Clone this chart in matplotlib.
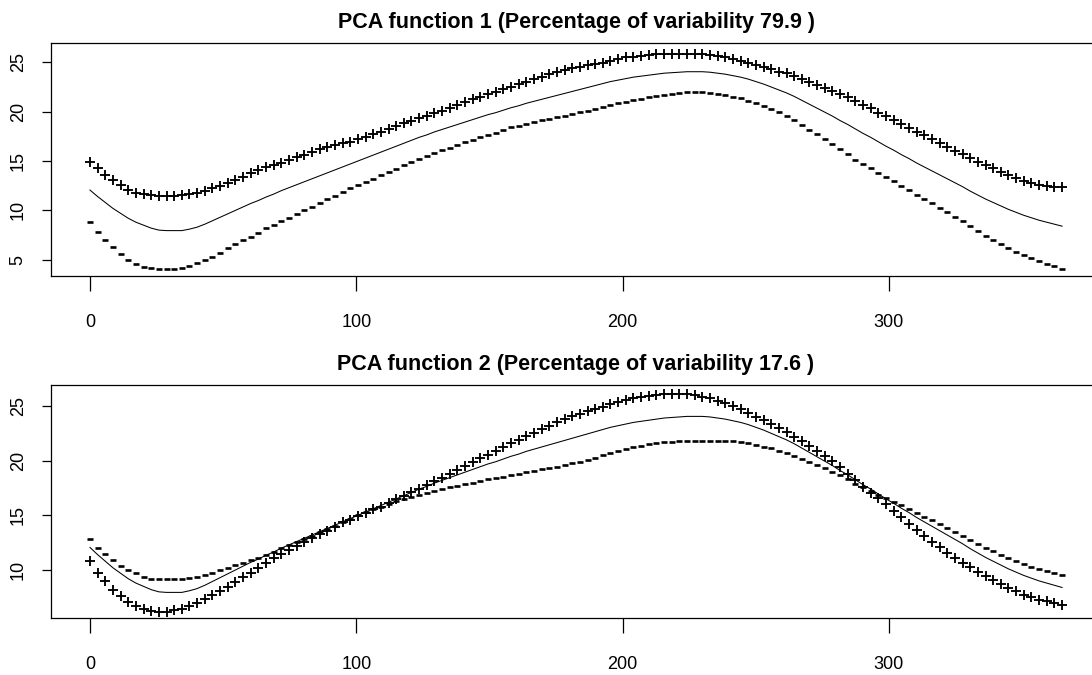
import numpy as np
import matplotlib
matplotlib.use('Agg')
import matplotlib.pyplot as plt

plt.rcParams['font.family'] = ['Liberation Sans', 'DejaVu Sans']

# day grid of the evaluated curves (128 points over the year)
days = np.linspace(0, 365, 128)

mean_curve = [
    12.06, 11.4, 10.8, 10.2, 9.7, 9.2, 8.8, 8.5, 8.2, 8.0,
    7.95, 7.95, 7.95, 8.1, 8.3, 8.6, 8.95, 9.3, 9.65, 10.0,
    10.35, 10.7, 11.0, 11.35, 11.65, 12.0, 12.3, 12.6, 12.9, 13.2,
    13.5, 13.8, 14.1, 14.4, 14.7, 15.0, 15.3, 15.6, 15.9, 16.2,
    16.5, 16.8, 17.1, 17.4, 17.65, 17.95, 18.2, 18.45, 18.7, 18.95,
    19.2, 19.45, 19.7, 19.9, 20.15, 20.4, 20.6, 20.85, 21.05, 21.25,
    21.45, 21.65, 21.85, 22.05, 22.25, 22.45, 22.65, 22.85, 23.05, 23.2,
    23.35, 23.5, 23.6, 23.7, 23.8, 23.9, 23.95, 24.0, 24.05, 24.05,
    24.05, 24.0, 23.9, 23.8, 23.65, 23.5, 23.3, 23.05, 22.8, 22.5,
    22.2, 21.9, 21.55, 21.15, 20.75, 20.35, 19.95, 19.55, 19.1, 18.7,
    18.25, 17.8, 17.4, 16.95, 16.5, 16.1, 15.65, 15.25, 14.8, 14.4,
    14.0, 13.6, 13.2, 12.8, 12.4, 11.95, 11.55, 11.15, 10.8, 10.45,
    10.1, 9.8, 9.5, 9.25, 9.0, 8.8, 8.6, 8.4,
]

pc1_plus = [
    14.93, 14.26, 13.58, 13.07, 12.57, 12.06, 11.79, 11.66, 11.55, 11.45,
    11.45, 11.45, 11.55, 11.66, 11.79, 11.99, 12.23, 12.5, 12.8, 13.07,
    13.41, 13.75, 14.08, 14.35, 14.59, 14.82, 15.09, 15.36, 15.6, 15.93,
    16.17, 16.44, 16.65, 16.79, 16.96, 17.2, 17.46, 17.74, 17.97, 18.21,
    18.55, 18.82, 19.09, 19.32, 19.56, 19.83, 20.1, 20.34, 20.67, 21.01,
    21.25, 21.52, 21.79, 22.02, 22.26, 22.53, 22.77, 23.04, 23.27, 23.54,
    23.81, 24.05, 24.22, 24.39, 24.56, 24.73, 24.83, 24.96, 25.17, 25.33,
    25.5, 25.57, 25.67, 25.74, 25.8, 25.84, 25.84, 25.84, 25.84, 25.84,
    25.8, 25.74, 25.64, 25.5, 25.33, 25.17, 24.96, 24.73, 24.49, 24.29,
    24.05, 23.88, 23.61, 23.31, 23.04, 22.7, 22.36, 22.13, 21.79, 21.45,
    21.1, 20.72, 20.34, 19.9, 19.56, 19.15, 18.75, 18.31, 17.97, 17.63,
    17.2, 16.79, 16.39, 16.05, 15.71, 15.27, 14.93, 14.59, 14.26, 13.92,
    13.58, 13.24, 13.01, 12.74, 12.57, 12.47, 12.4, 12.33,
]

pc1_minus = [
    8.85, 7.84, 7.0, 6.25, 5.58, 4.97, 4.56, 4.29, 4.13, 4.02,
    4.02, 4.05, 4.13, 4.36, 4.7, 4.97, 5.24, 5.71, 6.15, 6.59,
    7.0, 7.33, 7.74, 8.18, 8.52, 8.92, 9.26, 9.63, 10.04, 10.37,
    10.78, 11.12, 11.45, 11.89, 12.23, 12.57, 12.9, 13.23, 13.57, 13.9,
    14.23, 14.57, 14.9, 15.23, 15.52, 15.85, 16.1, 16.37, 16.63, 16.89,
    17.15, 17.41, 17.67, 17.88, 18.14, 18.4, 18.57, 18.78, 18.95, 19.11,
    19.27, 19.44, 19.6, 19.76, 19.93, 20.09, 20.25, 20.45, 20.67, 20.85,
    21.03, 21.2, 21.33, 21.46, 21.6, 21.73, 21.81, 21.9, 21.98, 21.99,
    21.99, 21.93, 21.81, 21.69, 21.52, 21.35, 21.13, 20.86, 20.59, 20.27,
    19.94, 19.6, 19.17, 18.68, 18.19, 17.7, 17.21, 16.72, 16.18, 15.69,
    15.15, 14.7, 14.28, 13.82, 13.35, 12.94, 12.48, 12.06, 11.6, 11.15,
    10.7, 10.25, 9.8, 9.34, 8.88, 8.37, 7.9, 7.4, 6.95, 6.55,
    6.15, 5.8, 5.45, 5.15, 4.85, 4.6, 4.35, 4.1,
]

pc2_plus = [
    10.85, 9.75, 8.99, 8.17, 7.62, 7.1, 6.7, 6.4, 6.27, 6.18,
    6.18, 6.3, 6.45, 6.7, 7.0, 7.35, 7.7, 8.1, 8.47, 8.93,
    9.32, 9.75, 10.21, 10.67, 11.06, 11.46, 11.83, 12.22, 12.59, 12.89,
    13.26, 13.59, 13.9, 14.35, 14.6, 14.94, 15.24, 15.55, 15.8, 16.1,
    16.45, 16.8, 17.15, 17.45, 17.75, 18.1, 18.45, 18.8, 19.15, 19.5,
    19.85, 20.2, 20.55, 20.9, 21.25, 21.6, 21.9, 22.25, 22.55, 22.9,
    23.2, 23.5, 23.8, 24.05, 24.3, 24.5, 24.7, 24.94, 25.18, 25.4,
    25.55, 25.7, 25.79, 25.91, 26.01, 26.07, 26.1, 26.1, 26.07, 26.01,
    25.85, 25.7, 25.49, 25.3, 25.03, 24.7, 24.39, 24.02, 23.72, 23.32,
    22.96, 22.59, 22.19, 21.83, 21.37, 20.91, 20.43, 20.0, 19.39, 18.75,
    18.2, 17.56, 17.07, 16.55, 16.03, 15.42, 14.81, 14.2, 13.66, 13.11,
    12.59, 12.07, 11.58, 11.12, 10.67, 10.24, 9.84, 9.45, 9.08, 8.71,
    8.38, 8.07, 7.71, 7.49, 7.28, 7.13, 6.95, 6.79,
]

pc2_minus = [
    12.8, 12.04, 11.43, 10.91, 10.39, 10.0, 9.69, 9.39, 9.17, 9.14,
    9.14, 9.14, 9.17, 9.29, 9.39, 9.54, 9.75, 10.0, 10.21, 10.45,
    10.67, 10.91, 11.12, 11.37, 11.67, 11.98, 12.28, 12.59, 12.83, 13.14,
    13.44, 13.75, 14.05, 14.4, 14.7, 15.0, 15.3, 15.55, 15.8, 16.05,
    16.3, 16.5, 16.7, 16.9, 17.05, 17.25, 17.4, 17.55, 17.7, 17.85,
    18.0, 18.15, 18.3, 18.45, 18.55, 18.7, 18.8, 18.95, 19.05, 19.2,
    19.3, 19.45, 19.6, 19.75, 19.9, 20.05, 20.2, 20.52, 20.73, 20.91,
    21.07, 21.22, 21.37, 21.49, 21.58, 21.68, 21.74, 21.77, 21.8, 21.8,
    21.8, 21.8, 21.8, 21.8, 21.77, 21.71, 21.58, 21.43, 21.28, 21.13,
    20.91, 20.67, 20.43, 20.15, 19.91, 19.6, 19.3, 18.99, 18.69, 18.32,
    17.9, 17.55, 17.25, 16.9, 16.55, 16.25, 15.9, 15.55, 15.2, 14.85,
    14.55, 14.2, 13.85, 13.5, 13.15, 12.75, 12.4, 12.05, 11.7, 11.4,
    11.1, 10.8, 10.55, 10.3, 10.1, 9.9, 9.7, 9.5,
]

titles = ['PCA function 1 (Percentage of variability 79.9 )',
          'PCA function 2 (Percentage of variability 17.6 )']
x_ticks = [0, 100, 200, 300]
y_ticks = [[5, 10, 15, 20, 25], [10, 15, 20, 25]]
y_limits = [(3.35, 26.96), (5.58, 26.92)]


def draw_panel(ax, plus, minus, title, yticks, ylim):
    ax.plot(days, mean_curve, color='black', linewidth=0.75)
    ax.plot(days, plus, linestyle='none', marker='+', markersize=6.5,
            markeredgewidth=1.35, color='black')
    ax.plot(days, minus, linestyle='none', marker='_', markersize=4.8,
            markeredgewidth=1.9, color='black')

    ax.set_xlim(-14.6, 379.6)
    ax.set_ylim(*ylim)
    ax.set_xticks(x_ticks)
    ax.set_yticks(yticks)
    ax.tick_params(axis='x', length=10.8, width=0.9, pad=16.5, labelsize=13)
    ax.tick_params(axis='y', length=6.5, width=0.9, pad=11, labelsize=13,
                   labelrotation=90)
    for label in ax.get_yticklabels():
        label.set_verticalalignment('center')
    for spine in ax.spines.values():
        spine.set_linewidth(0.9)
    ax.set_title(title, fontsize=15.5, fontweight='bold', pad=10.8)


def main():
    fig = plt.figure(figsize=(10.92, 6.75), dpi=100)
    # the right edge of each plot box lies just outside the picture
    top_ax = fig.add_axes([0.0468, 0.5911, 0.9614, 0.3452])
    bottom_ax = fig.add_axes([0.0468, 0.0840, 0.9614, 0.3456])

    draw_panel(top_ax, pc1_plus, pc1_minus, titles[0], y_ticks[0], y_limits[0])
    draw_panel(bottom_ax, pc2_plus, pc2_minus, titles[1], y_ticks[1], y_limits[1])

    fig.savefig('out.png', dpi=100)


if __name__ == '__main__':
    main()
